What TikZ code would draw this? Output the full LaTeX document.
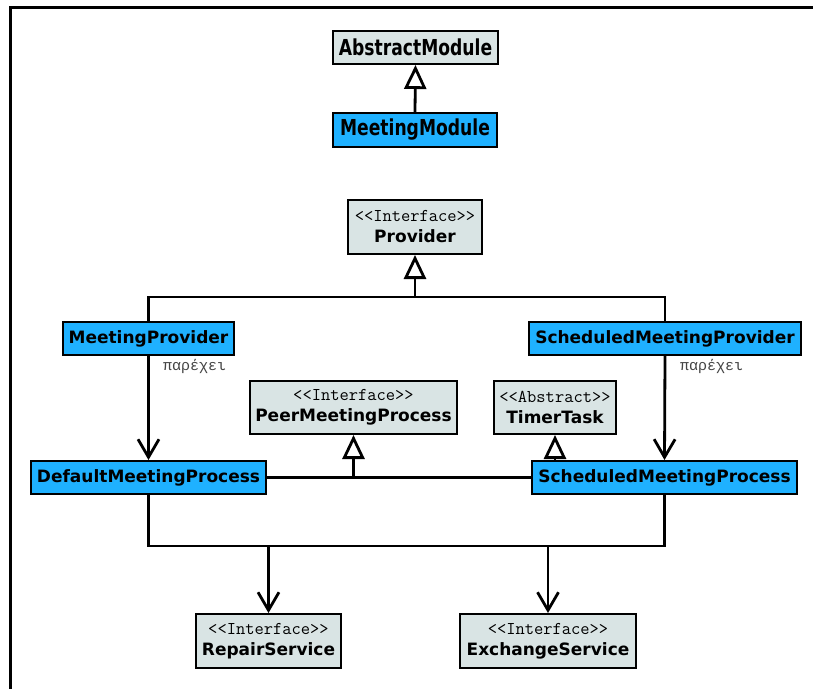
\documentclass[tikz,border=0pt]{standalone}
\usepackage{fontspec}
\usetikzlibrary{arrows.meta}
\setmainfont{DejaVu Sans}
\newfontfamily\boldface{DejaVu Sans Bold}
\newfontfamily\condface[FakeStretch=0.78]{DejaVu Sans Bold}
\newfontfamily\greekmono{Liberation Mono}
\definecolor{classgray}{HTML}{D9E4E4}
\definecolor{classblue}{HTML}{1FB1FF}
\definecolor{notegray}{HTML}{444444}
\tikzset{
  cls/.style={draw=black, line width=2pt, inner sep=1pt, align=center,
    font=\boldface\fontsize{17}{19}\selectfont},
  abstractcls/.style={cls, fill=classgray},
  concretecls/.style={cls, fill=classblue},
  bigcls/.style={font=\condface\fontsize{22}{24}\selectfont},
  conn/.style={draw=black, line width=2.8pt},
  gen/.style={conn, -{Triangle[open, length=24pt, width=22pt, fill=white]}},
  assoc/.style={conn, -{Straight Barb[length=18pt, width=21pt]}},
  note/.style={font=\greekmono\fontsize{15}{15}\selectfont, text=notegray, inner sep=0pt, anchor=west},
}
\newcommand{\stereo}[2]{{\ttfamily\fontsize{18}{18}\selectfont <<#1>>}\\[2pt]#2}
\begin{document}
\begin{tikzpicture}[x=1pt, y=-1pt]
  \useasboundingbox (0,0) rectangle (813,688);
  % outer frame, open at the right and bottom
  \draw[line width=3pt] (10,690) -- (10,7) -- (815,7);

  % module classes
  \node[abstractcls, bigcls, minimum width=165pt, minimum height=33pt] (amod) at (415.5,47.5) {AbstractModule};
  \node[concretecls, bigcls, minimum width=164pt, minimum height=34pt] (mmod) at (415,130) {MeetingModule};

  % provider hierarchy
  \node[abstractcls, minimum width=134pt, minimum height=54pt] (prov) at (415,227) {\stereo{Interface}{Provider}};
  \node[concretecls, minimum width=171pt, minimum height=33pt] (mprov) at (148.5,338.5) {MeetingProvider};
  \node[concretecls, minimum width=272pt, minimum height=33pt] (sprov) at (665,338.5) {ScheduledMeetingProvider};

  % processes
  \node[abstractcls, minimum width=207pt, minimum height=53pt] (peer) at (353.5,407.5) {\stereo{Interface}{PeerMeetingProcess}};
  \node[abstractcls, minimum width=122pt, minimum height=53pt] (timer) at (555,407.5) {\stereo{Abstract}{TimerTask}};
  \node[concretecls, minimum width=235pt, minimum height=33pt] (dproc) at (148.5,477.5) {DefaultMeetingProcess};
  \node[concretecls, minimum width=265pt, minimum height=33pt] (sproc) at (664.5,477.5) {ScheduledMeetingProcess};

  % services
  \node[abstractcls, minimum width=145pt, minimum height=54pt] (repair) at (268.5,641) {\stereo{Interface}{RepairService}};
  \node[abstractcls, minimum width=176pt, minimum height=54pt] (exch) at (548,641) {\stereo{Interface}{ExchangeService}};

  % junction points
  \coordinate (pj) at (prov.south |- 0,297);
  \coordinate (qj) at (peer.south |- dproc.east);
  \coordinate (bl) at (dproc.south |- 0,546);
  \coordinate (br) at (sproc.south |- 0,546);

  % generalizations
  \draw[gen] (mmod.north) -- (amod.south);
  \draw[conn] (mprov.north) |- (pj) -| (sprov.north);
  \draw[gen] (pj) -- (prov.south);
  \draw[conn] (dproc.east) -- (sproc.west);
  \draw[gen] (qj) -- (peer.south);
  \draw[gen] (sproc.north -| timer.south) -- (timer.south);

  % providers supply processes
  \draw[assoc] (mprov.south) -- (dproc.north);
  \draw[assoc] (sprov.south) -- (sproc.north);
  \node[note] (nleft) at (163,366) {παρέχει};
  \node[note] (nright) at (680,366) {παρέχει};

  % processes use services
  \draw[conn] (dproc.south) -- (bl) -- (br) -- (sproc.south);
  \draw[assoc] (repair.north |- bl) -- (repair.north);
  \draw[assoc] (exch.north |- bl) -- (exch.north);
\end{tikzpicture}
\end{document}
